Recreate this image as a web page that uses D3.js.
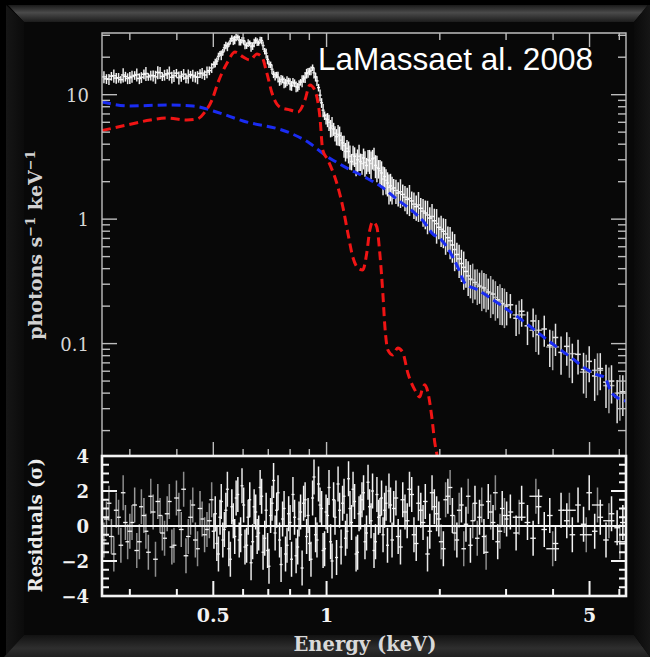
<!DOCTYPE html>
<html><head><meta charset="utf-8">
<script src="https://cdn.jsdelivr.net/npm/d3@7"></script>
<style>html,body{margin:0;padding:0;background:#000;}svg{display:block;}</style>
</head><body>
<script>
// ---------------- DATA ----------------
// dataset 1 (white)
const binE = [0.260,0.268,0.276,0.284,0.292,0.300,0.309,0.318,0.327,0.336,0.346,0.356,0.366,0.377,0.388,0.399,0.411,0.423,0.435,0.448,0.461,0.474,0.488,
 0.502,0.511,0.521,0.530,0.540,0.550,0.560,0.570,0.581,0.591,0.602,0.613,0.625,0.636,0.648,0.660,0.672,0.685,0.697,0.710,0.723,0.737,0.750,0.764,0.778,0.793,0.807,0.822,0.838,0.853,0.869,0.885,0.901,0.918,0.935,0.952,0.970,0.988,1.006,1.025,1.044,1.063,1.083,1.103,1.123,1.144,1.165,1.187,1.209,1.231,1.254,1.277,1.301,1.325,1.349,1.374,1.400,1.426,1.452,1.479,
 1.508,1.550,1.594,1.638,1.684,1.731,1.780,1.830,1.881,1.934,1.988,2.044,2.101,2.160,2.220,2.283,2.347,2.412,2.480,2.550,2.620,2.690,2.770,2.850,2.930,3.010,
 3.08,3.19,3.30,3.42,3.54,3.66,3.79,3.92,4.06,4.20,4.35,4.50,4.66,4.82,4.99,5.16,5.34,5.53,5.72,5.92,6.13];
const flux = [13.4,14.1,13.6,13.2,14.0,13.7,14.3,13.5,14.6,13.9,14.2,15.1,14.0,14.7,13.8,14.9,14.1,13.6,14.5,13.9,14.8,14.4,15.6,
 17.5,18.6,21.4,22.0,24.9,25.5,28.3,27.6,29.0,26.4,27.1,24.8,25.9,24.6,27.3,26.0,27.2,22.4,19.2,17.4,14.6,14.4,12.8,13.3,12.4,12.9,11.8,12.4,11.5,12.6,13.4,14.8,15.4,16.5,13.9,11.4,8.6,6.8,6.3,5.4,5.3,4.6,4.7,4.1,3.5,3.5,2.9,3.2,3.0,2.9,3.1,2.7,2.95,3.05,2.7,2.55,2.35,2.2,1.95,1.85,
 1.78,1.62,1.58,1.44,1.40,1.26,1.22,1.12,1.02,0.97,0.86,0.80,0.71,0.62,0.52,0.44,0.38,0.33,0.31,0.29,0.28,0.26,0.25,0.225,0.21,0.20,
 0.205,0.160,0.182,0.139,0.152,0.118,0.131,0.097,0.112,0.085,0.095,0.074,0.082,0.062,0.072,0.055,0.063,0.049,0.050,0.037,0.041];
const fluxErr = [0.09,0.08,0.10,0.07,0.09,0.11,0.08,0.10,0.09,0.07,0.10,0.12,0.08,0.09,0.11,0.08,0.10,0.09,0.07,0.10,0.08,0.09,0.08,
 0.06,0.07,0.05,0.06,0.07,0.05,0.06,0.08,0.05,0.06,0.07,0.06,0.05,0.07,0.06,0.05,0.07,0.06,0.08,0.06,0.07,0.06,0.08,
 0.07,0.08,0.06,0.09,0.07,0.08,0.06,0.07,0.09,0.07,0.06,0.08,0.07,0.09,0.08,
 0.13,0.16,0.12,0.15,0.18,0.14,0.17,0.20,0.15,0.18,0.21,0.16,0.19,0.15,0.22,0.18,0.21,0.17,0.24,0.19,0.22,0.25,
 0.18,0.22,0.20,0.24,0.19,0.23,0.21,0.26,0.22,0.25,0.20,0.27,0.23,0.28,0.24,0.29,0.26,0.30,0.27,0.28,0.32,0.28,0.31,0.29,0.33,0.30,
 0.22,0.28,0.25,0.30,0.26,0.31,0.28,0.33,0.29,0.34,0.30,0.35,0.31,0.36,0.32,0.37,0.33,0.38,0.34,0.38,0.36];
const resid = [0.4,-0.6,0.9,-1.1,0.2,-0.3,1.2,-0.9,0.6,-1.5,0.8,1.4,-0.4,0.7,-1.2,1.6,-0.2,-1.7,0.5,-0.8,1.0,-0.5,0.3,
 -0.3,-1.0,0.5,-0.8,0.9,-1.3,1.1,-0.6,1.8,-0.5,1.2,-1.1,1.5,-0.9,0.8,-0.4,1.7,-0.7,-1.4,0.6,2.6,0.9,-0.8,0.4,-1.6,0.7,-1.9,0.5,-1.2,0.8,
 1.3,-0.6,-1.0,1.6,-0.5,2.4,1.0,-1.3,0.6,-0.9,1.5,-1.8,0.9,1.3,-0.7,2.7,0.2,1.4,-1.5,0.8,1.9,-0.4,1.1,2.0,-0.9,0.5,1.6,0.9,-1.1,1.2,
 1.0,-0.6,1.5,0.3,1.8,-1.0,0.9,1.4,-0.3,1.1,0.4,-1.3,1.7,0.6,-0.8,1.2,0.1,-1.1,1.3,0.5,-0.6,1.4,0.2,-0.9,1.0,0.4,
 0.8,-0.4,1.3,0.2,-0.7,1.1,-0.2,0.6,-1.0,0.9,0.3,-0.5,1.2,0.1,1.9,-0.3,0.5,-0.8,0.7,-0.1,0.2];

// dataset 2 (grey)
const binE2 = [0.256,0.264,0.272,0.280,0.288,0.296,0.304,0.313,0.322,0.331,0.341,0.351,0.361,0.371,0.382,0.393,0.405,0.417,0.429,0.441,0.454,0.467,0.481,0.495,
 0.506,0.516,0.525,0.535,0.545,0.555,0.565,0.575,0.586,0.596,0.607,0.619,0.630,0.642,0.654,0.666,0.678,0.691,0.703,0.716,0.730,0.743,0.757,0.771,0.785,0.800,0.814,0.830,0.845,0.861,0.877,0.893,0.909,0.926,0.943,0.961,0.979,0.997,1.015,1.034,1.053,1.073,1.093,1.113,1.133,1.154,1.176,1.198,1.220,1.242,1.265,1.289,1.313,1.337,1.361,1.387,1.413,1.439,1.465,1.493,
 1.529,1.572,1.616,1.661,1.707,1.755,1.805,1.855,1.907,1.961,2.016,2.072,2.130,2.190,2.251,2.315,2.379,2.446,2.515,2.585,2.655,2.730,2.810,2.890,2.970,
 3.25,3.60,3.99,4.42,4.90,5.25,5.63,6.02];
const flux2 = [13.9,13.3,14.2,13.7,14.4,13.5,14.0,14.5,13.8,14.8,14.3,13.9,15.0,14.4,14.9,14.2,13.7,14.6,14.1,14.3,13.8,14.9,15.2,16.4,
 18.0,20.3,20.8,23.8,24.3,27.0,27.2,28.9,27.3,27.4,25.2,26.0,24.3,26.1,26.5,27.6,24.8,21.5,17.6,16.0,14.1,13.9,13.2,12.5,12.9,12.2,12.6,11.6,12.0,12.9,13.8,15.0,15.6,15.0,12.9,9.9,7.5,6.4,6.0,5.6,4.9,4.8,4.3,3.9,3.7,3.2,3.3,2.8,3.2,2.8,2.85,3.0,2.8,3.1,2.6,2.45,2.1,2.05,1.8,1.75,
 1.70,1.66,1.50,1.47,1.32,1.30,1.16,1.08,1.05,0.92,0.83,0.76,0.67,0.57,0.48,0.41,0.35,0.325,0.30,0.285,0.27,0.255,0.235,0.22,0.205,
 0.170,0.128,0.094,0.083,0.059,0.061,0.046,0.040];
const fluxErr2 = [0.11,0.10,0.12,0.09,0.13,0.10,0.11,0.12,0.10,0.13,0.09,0.12,0.11,0.10,0.13,0.11,0.12,0.10,0.13,0.11,0.12,0.10,0.11,0.09,
 0.08,0.07,0.09,0.07,0.08,0.06,0.08,0.07,0.09,0.06,0.08,0.07,0.09,0.08,0.07,0.06,0.08,0.09,0.07,0.09,0.08,0.10,0.09,
 0.10,0.09,0.11,0.08,0.10,0.09,0.11,0.10,0.09,0.08,0.10,0.09,0.11,0.12,0.10,
 0.15,0.18,0.14,0.19,0.16,0.20,0.17,0.22,0.18,0.21,0.24,0.19,0.23,0.20,0.25,0.21,0.24,0.22,0.26,0.23,0.27,0.25,
 0.22,0.26,0.23,0.28,0.24,0.27,0.25,0.30,0.26,0.31,0.28,0.32,0.29,0.33,0.30,0.34,0.31,0.35,0.32,0.36,0.34,0.37,0.35,0.36,0.35,
 0.30,0.33,0.35,0.36,0.38,0.37,0.40,0.40];
const resid2 = [-0.8,1.3,-1.6,0.5,1.9,-0.9,0.2,-1.4,1.1,-0.3,1.7,-1.9,0.6,-0.7,1.4,-1.1,0.9,2.1,-0.6,1.2,-1.3,0.4,-0.2,1.5,
 0.7,-1.6,1.4,-0.2,2.1,-1.9,0.3,1.6,-0.8,2.3,-1.2,0.5,-2.1,1.1,-0.6,2.2,-1.5,0.9,-2.3,1.3,-0.4,1.9,-2.2,1.0,-1.1,0.2,1.8,-1.7,0.4,-2.4,
 1.5,0.6,-1.9,2.8,-0.8,1.2,-1.4,0.8,2.2,-2.0,0.5,2.4,-1.2,1.7,-0.3,1.0,2.1,-1.6,0.7,1.5,-0.9,2.5,0.3,-1.4,1.8,0.6,-0.5,1.3,2.0,-0.8,
 1.6,-1.2,0.8,2.1,-0.5,1.3,0.2,-1.6,1.9,0.7,-0.9,1.5,2.2,-0.4,0.9,-1.3,1.7,0.3,-0.7,1.2,-1.5,0.8,1.9,-0.3,0.6,
 0.5,1.7,-1.3,0.9,-0.5,1.2,0.3,-0.9];

// model components
const redE = [0.253,0.295,0.340,0.376,0.425,0.453,0.475,0.496,0.514,0.544,0.571,0.600,0.626,0.653,0.673,0.694,0.716,0.751,0.800,0.839,0.876,0.903,0.930,0.960,0.977,1.008,1.072,1.105,1.139,1.174,1.211,1.248,1.279,1.303,1.327,1.360,1.385,1.411,1.428,1.455,1.500,1.546,1.594,1.644,1.716,1.769,1.800,1.824,1.858,1.904,1.940,1.962,2.0];
const redV = [5.14,5.71,6.26,6.50,6.26,6.38,7.26,9.06,12.4,18.0,22.0,20.1,19.0,21.2,20.1,14.9,10.3,7.96,7.53,7.26,9.06,11.97,10.9,6.62,3.59,2.99,1.81,1.25,0.775,0.497,0.406,0.391,0.535,0.819,0.95,0.866,0.535,0.255,0.141,0.089,0.081,0.0923,0.085,0.0582,0.0425,0.0373,0.044,0.0466,0.0409,0.0258,0.0159,0.0132,0.009];
const blueE = [0.253,0.300,0.376,0.442,0.500,0.600,0.800,0.900,0.990,1.118,1.263,1.402,1.546,1.716,1.824,1.904,2.020,2.164,2.231,2.287,2.329,2.522,2.850,3.220,3.510,3.960,4.480,4.940,5.250,5.480,5.720,6.250];
const blueV = [8.74,8.11,8.26,8.11,7.40,6.15,4.92,4.09,3.28,2.63,2.18,1.81,1.43,1.12,0.932,0.775,0.681,0.497,0.413,0.343,0.307,0.270,0.212,0.164,0.134,0.101,0.0768,0.0615,0.056,0.054,0.0402,0.0345];

const xTickLabels = [0.5, 1, 5];
const yTickLabels = [0.1, 1, 10];
const residTickLabels = [-4, -2, 0, 2, 4];
const titleText = "LaMassaet al. 2008";
const xTitle = "Energy (keV)";
const residTitle = "Residuals (\u03C3)";

// ---------------- LAYOUT ----------------
const W = 650, H = 657;
const L = 102, R = 626, T = 33, MB = 456, RB = 596;
const x = d3.scaleLog().domain([0.253, 6.25]).range([L, R]);
const y = d3.scaleLog().domain([0.0125, 31.3]).range([MB, T]);
const yr = d3.scaleLinear().domain([-4, 4]).range([RB, MB]);

const svg = d3.select("body").append("svg").attr("width", W).attr("height", H);
const defs = svg.append("defs");
function lg(id, x2, y2, stops) {
  const g = defs.append("linearGradient").attr("id", id).attr("x1", 0).attr("y1", 0).attr("x2", x2).attr("y2", y2);
  stops.forEach(s => g.append("stop").attr("offset", s[0]).attr("stop-color", s[1]));
}
lg("gTop", 0, 1, [[0, "#1a1a1a"], [0.45, "#4a4a4a"], [1, "#1c1c1c"]]);
lg("gBot", 0, 1, [[0, "#121212"], [0.6, "#2e2e2e"], [1, "#202020"]]);
lg("gLeft", 1, 0, [[0, "#161616"], [1, "#0b0b0b"]]);
lg("gRight", 1, 0, [[0, "#0a0a0a"], [1, "#161616"]]);
defs.append("clipPath").attr("id", "cMain").append("rect").attr("x", L).attr("y", T).attr("width", R - L).attr("height", MB - T);
defs.append("clipPath").attr("id", "cRes").append("rect").attr("x", L).attr("y", MB).attr("width", R - L).attr("height", RB - MB);

// frame
svg.append("rect").attr("width", W).attr("height", H).attr("fill", "#000");
svg.append("rect").attr("x", 24).attr("y", 22).attr("width", 610).attr("height", 613).attr("fill", "#080808");
const poly = (pts, fill) => svg.append("polygon").attr("points", pts.map(p => p.join(",")).join(" ")).attr("fill", fill);
poly([[8,5],[648,5],[634,22],[24,22]], "url(#gTop)");
poly([[6,5],[24,22],[24,635],[6,655]], "url(#gLeft)");
poly([[24,635],[634,635],[650,657],[4,657]], "url(#gBot)");
poly([[634,22],[648,5],[650,5],[650,657],[634,635]], "url(#gRight)");

function binEdges(E) {
  return E.map((e, i) => {
    let lo = i > 0 ? Math.sqrt(E[i - 1] * e) : e * e / Math.sqrt(e * E[1]);
    let hi = i < E.length - 1 ? Math.sqrt(E[i + 1] * e) : e * e / Math.sqrt(e * E[i - 1]);
    lo = Math.max(lo, e / 1.04); hi = Math.min(hi, e * 1.04);
    return [lo, hi];
  });
}

// ---------------- SPECTRUM ----------------
const gMain = svg.append("g").attr("clip-path", "url(#cMain)");
function drawSpec(E, F, FE, hiCol, loCol) {
  const ed = binEdges(E);
  E.forEach((e, i) => {
    const v = F[i], err = FE[i] * v;
    const col = e > 2.4 ? hiCol : loCol;
    gMain.append("line").attr("x1", x(e)).attr("x2", x(e)).attr("y1", y(v + err)).attr("y2", y(Math.max(v - err, 0.005)))
      .attr("stroke", col).attr("stroke-width", 1.5);
    gMain.append("line").attr("x1", x(ed[i][0])).attr("x2", x(ed[i][1])).attr("y1", y(v)).attr("y2", y(v))
      .attr("stroke", col).attr("stroke-width", 1.5);
  });
}
drawSpec(binE2, flux2, fluxErr2, "#a9a9a9", "#e6e6e6");
drawSpec(binE, flux, fluxErr, "#e4e4e4", "#f7f7f7");
const line = d3.line().x(d => x(d[0])).y(d => y(d[1])).curve(d3.curveMonotoneX);
gMain.append("path").attr("d", line(blueE.map((e, i) => [e, blueV[i]]))).attr("fill", "none")
  .attr("stroke", "#1a2cf2").attr("stroke-width", 3).attr("stroke-dasharray", "9,5");
gMain.append("path").attr("d", line(redE.map((e, i) => [e, redV[i]]))).attr("fill", "none")
  .attr("stroke", "#f01414").attr("stroke-width", 3).attr("stroke-dasharray", "9,5");

// ---------------- RESIDUALS ----------------
const gRes = svg.append("g").attr("clip-path", "url(#cRes)");
function drawRes(E, Rv, colFn) {
  const ed = binEdges(E);
  E.forEach((e, i) => {
    const r = Rv[i];
    gRes.append("line").attr("x1", x(e)).attr("x2", x(e)).attr("y1", yr(r + 1)).attr("y2", yr(r - 1))
      .attr("stroke", colFn(e)).attr("stroke-width", 1.5);
    gRes.append("line").attr("x1", x(ed[i][0])).attr("x2", x(ed[i][1])).attr("y1", yr(r)).attr("y2", yr(r))
      .attr("stroke", "#f5f5f5").attr("stroke-width", 1.3);
  });
}
drawRes(binE2, resid2, e => (e < 0.5 || e > 2.0) ? "#8c8c8c" : "#e8e8e8");
drawRes(binE, resid, e => e < 0.5 ? "#9a9a9a" : "#f4f4f4");
svg.append("line").attr("x1", L).attr("x2", R).attr("y1", yr(0)).attr("y2", yr(0)).attr("stroke", "#f5f5f5").attr("stroke-width", 2);

// ---------------- AXES ----------------
const axMain = "#bdbdbd", axRes = "#f4f4f4";
svg.append("path").attr("d", `M${L},${MB}V${T}H${R}V${MB}`).attr("fill", "none").attr("stroke", axMain).attr("stroke-width", 1.4);
x.ticks().forEach(t => {
  const major = xTickLabels.some(v => Math.abs(v - t) < 1e-9);
  const len = major ? 14 : 7;
  svg.append("line").attr("x1", x(t)).attr("x2", x(t)).attr("y1", T).attr("y2", T + len).attr("stroke", axMain).attr("stroke-width", 1.4);
  svg.append("line").attr("x1", x(t)).attr("x2", x(t)).attr("y1", MB).attr("y2", MB - len).attr("stroke", axMain).attr("stroke-width", 1.4);
  svg.append("line").attr("x1", x(t)).attr("x2", x(t)).attr("y1", RB).attr("y2", RB - (major ? 15 : 7)).attr("stroke", axRes).attr("stroke-width", 2);
});
y.ticks().forEach(t => {
  const major = yTickLabels.some(v => Math.abs(v - t) < 1e-9);
  const len = major ? 15 : 8;
  svg.append("line").attr("x1", L).attr("x2", L + len).attr("y1", y(t)).attr("y2", y(t)).attr("stroke", axMain).attr("stroke-width", 1.4);
  svg.append("line").attr("x1", R).attr("x2", R - len).attr("y1", y(t)).attr("y2", y(t)).attr("stroke", axMain).attr("stroke-width", 1.4);
});
d3.range(-4, 4.01, 0.5).forEach(t => {
  const major = Math.abs(t % 2) < 1e-9;
  const len = major ? 15 : 7;
  svg.append("line").attr("x1", L).attr("x2", L + len).attr("y1", yr(t)).attr("y2", yr(t)).attr("stroke", axRes).attr("stroke-width", 2);
  svg.append("line").attr("x1", R).attr("x2", R - len).attr("y1", yr(t)).attr("y2", yr(t)).attr("stroke", axRes).attr("stroke-width", 2);
});
svg.append("rect").attr("x", L).attr("y", MB).attr("width", R - L).attr("height", RB - MB)
  .attr("fill", "none").attr("stroke", axRes).attr("stroke-width", 2.6);

// ---------------- TEXT ----------------
const serif = "'DejaVu Serif', 'Liberation Serif', serif";
yTickLabels.forEach(t => {
  svg.append("text").attr("x", 89).attr("y", y(t) + 7).attr("text-anchor", "end")
    .attr("font-family", serif).attr("font-size", 18).attr("fill", "#d6d6d6").text(String(t));
});
residTickLabels.forEach(t => {
  svg.append("text").attr("x", 89).attr("y", yr(t) + 7).attr("text-anchor", "end")
    .attr("font-family", serif).attr("font-weight", "bold").attr("font-size", 18).attr("fill", "#f2f2f2")
    .text(t < 0 ? "\u2212" + Math.abs(t) : String(t));
});
xTickLabels.forEach(t => {
  svg.append("text").attr("x", x(t)).attr("y", 622).attr("text-anchor", "middle")
    .attr("font-family", serif).attr("font-weight", "bold").attr("font-size", 19).attr("fill", "#f2f2f2").text(String(t));
});
svg.append("text").attr("x", 365).attr("y", 651).attr("text-anchor", "middle")
  .attr("font-family", serif).attr("font-weight", "bold").attr("font-size", 19.5).attr("fill", "#d9d9d9").text(xTitle);
const yt = svg.append("text").attr("transform", "translate(42,245) rotate(-90)").attr("text-anchor", "middle")
  .attr("font-family", serif).attr("font-weight", "bold").attr("font-size", 19).attr("fill", "#d2d2d2");
yt.append("tspan").text("photons s");
yt.append("tspan").attr("dy", -7).attr("font-size", 13).text("\u22121");
yt.append("tspan").attr("dy", 7).text(" keV");
yt.append("tspan").attr("dy", -7).attr("font-size", 13).text("\u22121");
svg.append("text").attr("transform", "translate(42,525) rotate(-90)").attr("text-anchor", "middle")
  .attr("font-family", serif).attr("font-weight", "bold").attr("font-size", 18).attr("fill", "#ececec").text(residTitle);
svg.append("text").attr("x", 318).attr("y", 70).attr("font-family", "'Liberation Sans', Arial, sans-serif")
  .attr("font-size", 31.5).attr("fill", "#ffffff").text(titleText);
</script>
</body></html>
